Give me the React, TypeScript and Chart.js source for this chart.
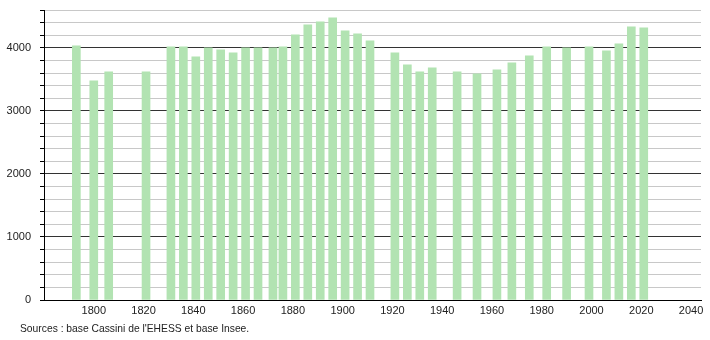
import React, { useEffect, useRef } from "react";
import { Chart, registerables } from "chart.js";

Chart.register(...registerables);

const years = [1793, 1800, 1806, 1821, 1831, 1836, 1841, 1846, 1851, 1856, 1861, 1866, 1872, 1876, 1881, 1886, 1891, 1896, 1901, 1906, 1911, 1921, 1926, 1931, 1936, 1946, 1954, 1962, 1968, 1975, 1982, 1990, 1999, 2006, 2011, 2016, 2021];
const population = [4030, 3476, 3619, 3619, 4016, 4016, 3857, 4000, 3968, 3920, 4000, 4000, 4000, 4016, 4206, 4365, 4413, 4476, 4270, 4222, 4111, 3920, 3730, 3619, 3683, 3619, 3587, 3651, 3762, 3873, 4016, 4000, 4016, 3952, 4063, 4333, 4317];
const xTickLabels = [1800, 1820, 1840, 1860, 1880, 1900, 1920, 1940, 1960, 1980, 2000, 2020, 2040];
const yTickLabels = [0, 1000, 2000, 3000, 4000];
const sourceText = "Sources : base Cassini de l'EHESS et base Insee.";

const FONT = "'Liberation Sans', Arial, sans-serif";

export default function App() {
  const ref = useRef<HTMLCanvasElement | null>(null);

  useEffect(() => {
    if (!ref.current) return;
    const chart = new Chart(ref.current, {
      type: "bar",
      data: {
        datasets: [
          {
            data: years.map((y, i) => ({ x: y, y: population[i] })),
            backgroundColor: "#b2e3b2",
            borderWidth: 0,
            barThickness: 8,
          },
        ],
      },
      options: {
        animation: false,
        responsive: false,
        maintainAspectRatio: false,
        layout: { padding: { left: 0, top: 10, right: 9, bottom: 0 } },
        plugins: { legend: { display: false }, tooltip: { enabled: false } },
        scales: {
          x: {
            type: "linear",
            offset: false,
            min: 1780,
            max: 2044,
            grid: { display: false, drawTicks: false, offset: false },
            border: { display: true, color: "#000", width: 1 },
            afterBuildTicks: (scale: any) => {
              scale.ticks = xTickLabels.map((v) => ({ value: v }));
            },
            afterFit: (scale: any) => {
              scale.height = 40;
              scale.paddingLeft = 0;
              scale.paddingRight = 0;
            },
            ticks: {
              padding: 4,
              maxRotation: 0,
              autoSkip: false,
              color: "#222",
              font: { family: FONT, size: 11 },
              callback: (v: any) => String(v),
            },
          },
          y: {
            min: 0,
            max: 4600,
            afterBuildTicks: (scale: any) => {
              const t = [];
              for (let v = 0; v <= 4600; v += 200) t.push({ value: v });
              scale.ticks = t;
            },
            afterFit: (scale: any) => {
              scale.width = 44;
              scale.paddingTop = 0;
              scale.paddingBottom = 0;
            },
            grid: {
              color: (ctx: any) => (ctx.tick && ctx.tick.value % 1000 === 0 ? "#333" : "#c8c8c8"),
              tickColor: "#000",
              tickLength: 4,
              lineWidth: 1,
            },
            border: { display: true, color: "#000", width: 1 },
            ticks: {
              padding: 9,
              autoSkip: false,
              color: "#222",
              font: { family: FONT, size: 11 },
              callback: (v: any) => (yTickLabels.includes(Number(v)) ? String(v) : ""),
            },
          },
        },
      },
    });
    return () => chart.destroy();
  }, []);

  return (
    <div style={{ position: "fixed", left: 0, top: 0, width: 710, height: 340, background: "#fff" }}>
      <canvas ref={ref} width={710} height={340} style={{ display: "block" }} />
      <div
        style={{
          position: "absolute",
          left: 20,
          top: 323,
          fontFamily: FONT,
          fontSize: 10.3,
          color: "#222",
          whiteSpace: "nowrap",
        }}
      >
        {sourceText}
      </div>
    </div>
  );
}
